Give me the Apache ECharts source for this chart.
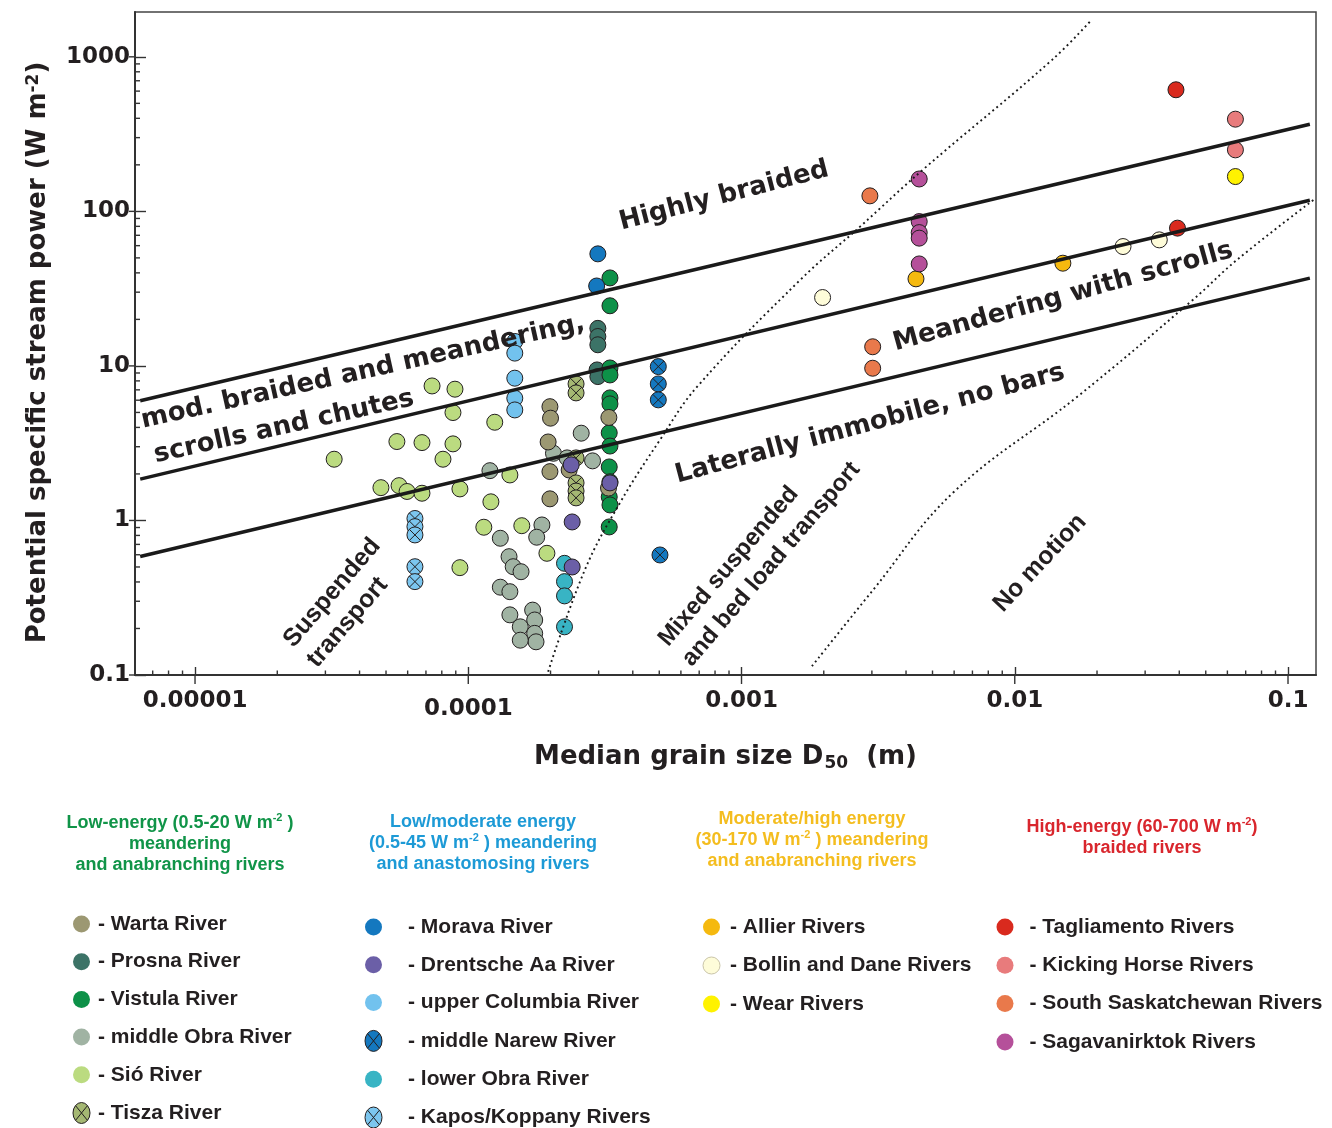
<!DOCTYPE html>
<html><head><meta charset="utf-8">
<script src="https://cdn.jsdelivr.net/npm/echarts@6/dist/echarts.min.js"></script>
<style>html,body{margin:0;padding:0;background:#fff}#chart{width:1332px;height:1128px}</style>
</head><body><div id="chart"></div>
<script>
// ---- axis ticks / labels ----
const xTickValues = [1e-5, 1e-4, 1e-3, 1e-2, 1e-1];
const xTickLabels = ['0.00001', '0.0001', '0.001', '0.01', '0.1'];
const yTickValues = [0.1, 1, 10, 100, 1000];
const yTickLabels = ['0.1', '1', '10', '100', '1000'];
const X_MIN = 6.03e-6, X_MAX = 0.1266, Y_MIN = 0.1, Y_MAX = 1950;

// ---- river data [D50 (m), stream power (W m-2)] ----
const wartaRiver = [[1.99e-4,5.45],[2.00e-4,4.59],[1.96e-4,3.22],[1.99e-4,2.07],[1.99e-4,1.38],[2.34e-4,2.12],[3.27e-4,4.64],[3.26e-4,1.62]];
const prosnaRiver = [[2.98e-4,17.5],[2.98e-4,15.5],[2.98e-4,13.7],[2.96e-4,9.42],[2.98e-4,8.53]];
const vistulaRiver = [[3.30e-4,37.1],[3.30e-4,24.5],[3.30e-4,9.70],[3.30e-4,8.74],[3.30e-4,6.21],[3.30e-4,5.68],[3.28e-4,3.69],[3.30e-4,3.03],[3.28e-4,2.22],[3.30e-4,1.78],[3.28e-4,1.42],[3.30e-4,1.26],[3.28e-4,0.908]];
const middleObraRiver = [[1.20e-4,2.10],[1.31e-4,0.767],[1.41e-4,0.583],[1.46e-4,0.502],[1.56e-4,0.466],[1.31e-4,0.370],[1.42e-4,0.346],[1.42e-4,0.245],[1.55e-4,0.205],[1.72e-4,0.263],[1.75e-4,0.227],[1.75e-4,0.186],[1.77e-4,0.164],[1.55e-4,0.168],[1.86e-4,0.935],[1.78e-4,0.779],[2.05e-4,2.72],[2.59e-4,3.67],[2.85e-4,2.43],[2.30e-4,2.54]];
const sioRiver = [[3.23e-5,2.49],[4.79e-5,1.63],[5.58e-5,1.68],[5.97e-5,1.54],[6.77e-5,1.50],[5.48e-5,3.24],[6.77e-5,3.19],[8.79e-5,3.13],[8.08e-5,2.49],[7.37e-5,7.42],[8.94e-5,7.07],[8.79e-5,4.99],[1.25e-4,4.32],[9.32e-5,1.60],[1.21e-4,1.32],[1.14e-4,0.904],[1.57e-4,0.925],[1.94e-4,0.613],[1.42e-4,1.97],[9.32e-5,0.495]];
const tiszaRiver = [[2.48e-4,7.65],[2.48e-4,6.69],[2.48e-4,2.54],[2.48e-4,1.75],[2.48e-4,1.55],[2.48e-4,1.40]];
const moravaRiver = [[2.98e-4,53.1],[2.95e-4,32.9]];
const drentscheAaRiver = [[2.38e-4,2.29],[3.30e-4,1.75],[2.40e-4,0.978],[2.40e-4,0.50]];
const upperColumbiaRiver = [[1.48e-4,14.4],[1.48e-4,12.1],[1.48e-4,8.33],[1.48e-4,6.18],[1.48e-4,5.19]];
const middleNarewRiver = [[4.96e-4,9.90],[4.96e-4,7.65],[4.96e-4,6.03],[5.03e-4,0.598]];
const lowerObraRiver = [[2.25e-4,0.528],[2.25e-4,0.402],[2.25e-4,0.325],[2.25e-4,0.205]];
const kaposKoppanyRivers = [[6.38e-5,1.03],[6.38e-5,0.912],[6.38e-5,0.806],[6.38e-5,0.502],[6.38e-5,0.402]];
const allierRivers = [[4.35e-3,36.6],[0.0150,46.2]];
const bollinDaneRivers = [[1.98e-3,27.7],[0.0249,59.2],[0.0338,65.4]];
const wearRivers = [[0.0642,168]];
const tagliamentoRivers = [[0.0389,612],[0.0394,77.9]];
const kickingHorseRivers = [[0.0642,395],[0.0642,250]];
const southSaskatchewanRivers = [[2.95e-3,126],[3.02e-3,13.3],[3.02e-3,9.66]];
const sagavanirktokRivers = [[4.47e-3,162],[4.47e-3,85.9],[4.47e-3,72.9],[4.47e-3,67.1],[4.47e-3,45.7]];

// ---- threshold lines ----
const braidedLine = [[6.3e-6,5.95],[0.1202,366]];
const scrollsLine = [[6.3e-6,1.85],[0.1202,118]];
const immobileLine = [[6.3e-6,0.585],[0.1202,37]];
const suspendedBoundary = [[1.96e-4,0.105],[2.67e-4,0.478],[3.59e-4,1.30],[5.03e-4,3.32],[6.87e-4,7.31],[1.64e-3,36.0],[2.71e-3,79.4],[4.61e-3,186],[0.0137,956],[0.0191,1736]];
const noMotionBoundary = [[1.81e-3,0.114],[3.03e-3,0.355],[5.94e-3,1.51],[0.0169,6.30],[0.0448,26.7],[0.0650,48.5],[0.1243,119]];

const TXT = '#231f20';
const CROSS = 'path://M20,10A10,10,0,1,1,0,10A10,10,0,1,1,20,10ZM3,3L17,17M17,3L3,17';

const rivers = [
  {name:'Sió River', data:sioRiver, color:'#bbdb80'},
  {name:'middle Obra River', data:middleObraRiver, color:'#a0b3a3'},
  {name:'Prosna River', data:prosnaRiver, color:'#3c7367'},
  {name:'Vistula River', data:vistulaRiver, color:'#0d9148'},
  {name:'Warta River', data:wartaRiver, color:'#9c9872'},
  {name:'Tisza River', data:tiszaRiver, color:'#a5b873', cross:true},
  {name:'upper Columbia River', data:upperColumbiaRiver, color:'#72c2ee'},
  {name:'Kapos/Koppany Rivers', data:kaposKoppanyRivers, color:'#7cc6ef', cross:true},
  {name:'lower Obra River', data:lowerObraRiver, color:'#38b4c4'},
  {name:'Morava River', data:moravaRiver, color:'#1478bf'},
  {name:'middle Narew River', data:middleNarewRiver, color:'#1478bf', cross:true},
  {name:'Drentsche Aa River', data:drentscheAaRiver, color:'#6b5fa7'},
  {name:'Allier Rivers', data:allierRivers, color:'#f5b90f'},
  {name:'Bollin and Dane Rivers', data:bollinDaneRivers, color:'#fefcd9', pale:true},
  {name:'Wear Rivers', data:wearRivers, color:'#fff200'},
  {name:'Tagliamento Rivers', data:tagliamentoRivers, color:'#d92a1e'},
  {name:'Kicking Horse Rivers', data:kickingHorseRivers, color:'#e87b7c'},
  {name:'South Saskatchewan Rivers', data:southSaskatchewanRivers, color:'#e9794b'},
  {name:'Sagavanirktok Rivers', data:sagavanirktokRivers, color:'#b5509a'}
];
const crossed = new Set(rivers.filter(r => r.cross).map(r => r.name));
const pale = new Set(rivers.filter(r => r.pale).map(r => r.name));

// tick helper marks (minor ticks and outward halves of major ticks)
const tickMarks = [];
for (let e = -6; e <= -1; e++) for (let m = 2; m <= 9; m++) { const v = m * Math.pow(10, e); if (v > X_MIN && v < X_MAX) tickMarks.push([v, Y_MIN, 0]); }
for (let e = -1; e <= 3; e++) for (let m = 2; m <= 9; m++) { const v = m * Math.pow(10, e); if (v > Y_MIN && v < Y_MAX) tickMarks.push([X_MIN, v, 1]); }
xTickValues.forEach(v => tickMarks.push([v, Y_MIN, 2]));
yTickValues.forEach(v => tickMarks.push([X_MIN, v, 3]));

function labelFor(values, labels, v) {
  for (let i = 0; i < values.length; i++) if (Math.abs(Math.log10(v) - Math.log10(values[i])) < 1e-4) return labels[i];
  return '';
}
const deg = d => d * Math.PI / 180;
const axisFont = {fontFamily:'DejaVu Sans', fontWeight:'bold', fontSize:23, color:TXT};

function legendBlock(names, left, top, gap, pad) {
  return {
    orient:'vertical', left:left, top:top, height:260, padding:0, itemGap:gap, itemWidth:17, itemHeight:21,
    symbolKeepAspect:false, selectedMode:false,
    itemStyle:{borderWidth:0},
    textStyle:{fontFamily:'Liberation Sans', fontWeight:'bold', fontSize:21, lineHeight:21, color:TXT, padding:[0,0,0,pad]},
    formatter:'- {name}',
    data: names.map(n => crossed.has(n)
      ? {name:n, icon:CROSS, itemStyle:{borderWidth:1, borderColor:'#231f20'}}
      : pale.has(n)
        ? {name:n, icon:'circle', itemStyle:{borderWidth:1, borderColor:'#c9c4a8'}}
        : {name:n, icon:'circle'})
  };
}

function header(text, x, y, color) {
  return {type:'text', x:x, y:y, z:10, style:{text:text, align:'center', verticalAlign:'middle',
    fontFamily:'Liberation Sans', fontWeight:'bold', fontSize:18, lineHeight:21, fill:color,
    rich:{sup:{fontFamily:'Liberation Sans', fontWeight:'bold', fontSize:11, lineHeight:11, fill:color, verticalAlign:'top'}}}};
}
function note(text, x, y, rot, opts) {
  return {type:'text', x:x, y:y, rotation:deg(rot), z:10, style:Object.assign({text:text, align:'center', verticalAlign:'middle',
    fontFamily:'DejaVu Sans', fontWeight:'bold', fontSize:26, fill:TXT}, opts || {})};
}

const dotted = {color:'#1a1a1a', width:1.9, type:[1.9, 3.3]};
const series = [
  {name:'braided threshold', type:'line', data:braidedLine, showSymbol:false, silent:true, lineStyle:{color:'#1a1a1a', width:3.5}},
  {name:'scrolls threshold', type:'line', data:scrollsLine, showSymbol:false, silent:true, lineStyle:{color:'#1a1a1a', width:3.5}},
  {name:'immobile threshold', type:'line', data:immobileLine, showSymbol:false, silent:true, lineStyle:{color:'#1a1a1a', width:3.5}},
  {name:'suspended boundary', type:'line', data:suspendedBoundary, smooth:0.4, showSymbol:false, silent:true, lineStyle:dotted},
  {name:'no motion boundary', type:'line', data:noMotionBoundary, smooth:0.4, showSymbol:false, silent:true, lineStyle:dotted},
  {name:'ticks', type:'custom', data:tickMarks, clip:false, silent:true, z:5,
    renderItem:function(params, api){
      const p = api.coord([api.value(0), api.value(1)]);
      const k = api.value(2);
      let s;
      if (k === 0) s = {x1:p[0], y1:p[1], x2:p[0], y2:p[1]-4.5};
      else if (k === 1) s = {x1:p[0], y1:p[1], x2:p[0]+5, y2:p[1]};
      else if (k === 2) s = {x1:p[0], y1:p[1], x2:p[0], y2:p[1]+9};
      else s = {x1:p[0], y1:p[1], x2:p[0]-6, y2:p[1]};
      return {type:'line', shape:s, style:{stroke:'#333', lineWidth:1.4}};
    }}
];
rivers.forEach(r => series.push({
  name:r.name, type:'scatter', data:r.data, symbol:r.cross ? CROSS : 'circle', symbolSize:16,
  itemStyle:{color:r.color, borderColor:'#231f20', borderWidth:1, opacity:1},
  emphasis:{disabled:true}
}));

const option = {
  animation:false,
  backgroundColor:'#ffffff',
  grid:{left:135, right:16, top:12, bottom:453, show:true, borderColor:'#444', borderWidth:1.5, containLabel:false, outerBoundsMode:'none'},
  xAxis:{type:'log', logBase:10, min:X_MIN, max:X_MAX, position:'bottom',
    axisLine:{lineStyle:{color:'#333', width:2}},
    axisTick:{inside:true, length:8, lineStyle:{color:'#333', width:1.4}},
    splitLine:{show:false},
    axisLabel:Object.assign({}, axisFont, {margin:15, showMinLabel:false, showMaxLabel:false,
      formatter:function(v){ const l = labelFor(xTickValues, xTickLabels, v); return l === '0.0001' ? '{low|' + l + '}' : l; },
      rich:{low:{fontFamily:'DejaVu Sans', fontWeight:'bold', fontSize:23, color:TXT, padding:[8,0,0,0]}}}),
    name:'Median grain size D{sub|50}  (m)', nameLocation:'middle', nameGap:67,
    nameTextStyle:{fontFamily:'DejaVu Sans', fontWeight:'bold', fontSize:26, color:TXT, lineHeight:30,
      rich:{sub:{fontFamily:'DejaVu Sans', fontWeight:'bold', fontSize:17, color:TXT, lineHeight:17, padding:[20,0,0,1], verticalAlign:'bottom'}}}
  },
  yAxis:{type:'log', logBase:10, min:Y_MIN, max:Y_MAX, position:'left',
    axisLine:{lineStyle:{color:'#333', width:2}},
    axisTick:{inside:true, length:11, lineStyle:{color:'#333', width:1.4}},
    splitLine:{show:false},
    axisLabel:Object.assign({}, axisFont, {margin:5, showMinLabel:true, showMaxLabel:false,
      formatter:function(v){ return labelFor(yTickValues, yTickLabels, v); }}),
    name:'Potential specific stream power (W m{sup|-2})', nameLocation:'middle', nameRotate:90, nameGap:84,
    nameTextStyle:{fontFamily:'DejaVu Sans', fontWeight:'bold', fontSize:26, color:TXT, padding:[0,18,0,0],
      rich:{sup:{fontFamily:'DejaVu Sans', fontWeight:'bold', fontSize:17, color:TXT, lineHeight:17, verticalAlign:'top'}}}
  },
  legend:[
    legendBlock(['Warta River','Prosna River','Vistula River','middle Obra River','Sió River','Tisza River'], 72.5, 913.5, 16.7, 3),
    legendBlock(['Morava River','Drentsche Aa River','upper Columbia River','middle Narew River','lower Obra River','Kapos/Koppany Rivers'], 364.5, 916.5, 16.8, 21),
    legendBlock(['Allier Rivers','Bollin and Dane Rivers','Wear Rivers'], 702.5, 916.5, 17.5, 5),
    legendBlock(['Tagliamento Rivers','Kicking Horse Rivers','South Saskatchewan Rivers','Sagavanirktok Rivers'], 996.5, 916.5, 17.3, 11)
  ],
  graphic:[
    note('Highly braided', 724, 196, 14.5),
    note('mod. braided and meandering,', 363, 372, 12.5),
    note('scrolls and chutes', 284, 427, 12.5),
    note('Meandering with scrolls', 1063, 297, 15.5),
    note('Laterally immobile, no bars', 870, 424, 15),
    note('Suspended\ntransport', 300, 654, 49.4, {align:'left', fontFamily:'Liberation Sans', fontSize:25, lineHeight:31}),
    note('Mixed suspended\nand bed load transport', 675, 653, 49.5, {align:'left', fontFamily:'Liberation Sans', fontSize:24, lineHeight:31}),
    note('No motion', 1040, 563, 47, {fontFamily:'Liberation Sans', fontSize:25}),
    header('Low-energy (0.5-20 W m{sup|-2} )\nmeandering\nand anabranching rivers', 180, 844, '#109448'),
    header('Low/moderate energy\n(0.5-45 W m{sup|-2} ) meandering\nand anastomosing rivers', 483, 843, '#1d9ad6'),
    header('Moderate/high energy\n(30-170 W m{sup|-2} ) meandering\nand anabranching rivers', 812, 840, '#f4bd1f'),
    header('High-energy (60-700 W m{sup|-2})\nbraided rivers', 1142, 837.5, '#d9262d')
  ],
  series:series
};
const chart = echarts.init(document.getElementById('chart'), null, {renderer:'canvas'});
chart.setOption(option);
</script></body></html>
